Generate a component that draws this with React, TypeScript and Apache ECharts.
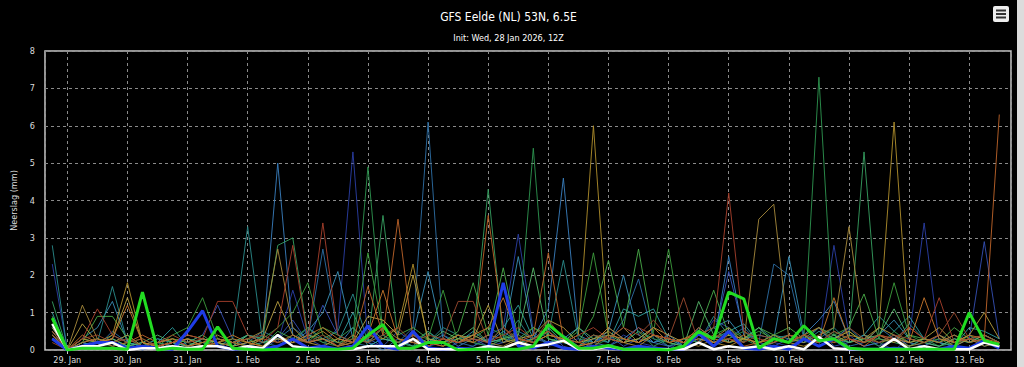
import React, { useEffect, useRef } from "react";
import * as echarts from "echarts";

// 6-hourly precipitation, first value valid 28 Jan 2026 18Z
const START = Date.UTC(2026, 0, 28, 18);
const STEP_H = 6;
const MONTHS = ["Jan", "Feb", "Mar"];
const Y_TICKS = [0, 1, 2, 3, 4, 5, 6, 7, 8];

const meanVals = [
  0.85, 0, 0.05, 0.05, 0.05, 0.02, 1.55, 0, 0.05, 0.02, 0.02, 0.62, 0.05, 0.02, 0, 0.02,
  0.02, 0.02, 0.02, 0.02, 0.05, 0.4, 0.68, 0.05, 0.05, 0.2, 0.2, 0, 0.02, 0.02, 0.02, 0.02,
  0.1, 0.68, 0.35, 0.05, 0.05, 0.12, 0.02, 0.02, 0.02, 0, 0.1, 0.5, 0.3, 1.55, 1.37, 0.05,
  0.3, 0.2, 0.65, 0.25, 0.3, 0.05, 0.02, 0.02, 0.02, 0.02, 0.02, 0.02, 0.02, 1.0, 0.25, 0.15,
];
const controlVals = [
  0.7, 0, 0.1, 0.1, 0.2, 0, 0.05, 0.05, 0.1, 0.05, 0.1, 0.1, 0.02, 0.1, 0.05, 0.4,
  0.1, 0.05, 0.02, 0.02, 0.02, 0.1, 0.1, 0.1, 0.3, 0.02, 0.02, 0.02, 0.02, 0.1, 0.05, 0.2,
  0.1, 0.15, 0.25, 0.02, 0.02, 0.1, 0.02, 0.02, 0.02, 0.02, 0.02, 0.2, 0.02, 0.1, 0.05, 0.1,
  0.02, 0.1, 0.02, 0.35, 0.05, 0.02, 0.02, 0.02, 0.3, 0.02, 0.1, 0.02, 0.02, 0.02, 0.2, 0.1,
];
const operVals = [
  0.3, 0, 0.1, 0.2, 0.2, 0.05, 0.1, 0.05, 0.02, 0.5, 1.05, 0.1, 0.02, 0.05, 0.02, 0.1,
  0.3, 0.05, 0.1, 0.02, 0.1, 0.65, 0.1, 0.02, 0.5, 0.05, 0.02, 0.05, 0.02, 0.05, 1.8, 0.1,
  0.05, 0.2, 0.05, 0.02, 0.1, 0.05, 0.02, 0.1, 0.05, 0.02, 0.02, 0.45, 0.1, 0.5, 0.05, 0.02,
  0.1, 0.02, 0.3, 0.1, 0.3, 0.02, 0.02, 0.02, 0.05, 0.02, 0.02, 0.02, 0.1, 0.05, 0.25, 0.05,
];

const m1 = [
  2.3, 0, 0.1, 0.3, 0.1, 0.2, 0, 0.1, 0.2, 0.1, 0.3, 0.2, 0, 0.1, 0.4, 0.2,
  1.6, 0.3, 0.1, 0.6, 5.3, 0.2, 0.1, 0, 0.3, 0.1, 0.2, 0, 0.1, 0.4, 0.6, 3.1,
  0.5, 0.1, 0.2, 0.3, 0, 0.1, 0.4, 0.2, 0.1, 0, 0.3, 0.2, 0.8, 0.6, 0.1, 0,
  0.2, 0.1, 0.3, 0.1, 2.8, 0.4, 0.1, 0.2, 0, 0.3, 3.4, 0.2, 0.1, 0.3, 0.2, 0.1,
];
const m2 = [
  0.4, 0, 0.2, 0.1, 0.3, 0.1, 0.2, 0, 0.1, 0.2, 0.4, 1.2, 0.3, 0.1, 0, 0.3,
  0.8, 0.2, 1.2, 0.4, 0.2, 0.3, 0.1, 0.5, 0.2, 0.1, 0, 0.2, 0.3, 0.1, 0.2, 0.4,
  0.2, 0.5, 0.1, 0, 0.2, 0.4, 0.1, 0.3, 0.2, 0.1, 0, 0.6, 0.3, 2.1, 0.5, 0.2,
  0.1, 0.3, 0.2, 0.6, 0.1, 0.2, 0.4, 0.1, 0.3, 0.2, 0.1, 0.4, 0.2, 0.3, 2.9, 0.3,
];
const m3 = [
  0.6, 0, 0.1, 0.2, 0.3, 0.1, 0, 0.2, 0.1, 0.3, 0.2, 0.1, 0.2, 0.4, 0.3, 5.0,
  0.4, 0.2, 0.3, 0.1, 0.6, 0.2, 0, 0.3, 0.1, 0.2, 0.4, 0.1, 0.3, 0.2, 0.5, 0.2,
  0.3, 1.1, 4.6, 0.4, 0.2, 0.1, 0.3, 0.6, 0.2, 0.4, 0.1, 0.3, 0.2, 2.5, 0.4, 0.1,
  0.3, 0.2, 0.4, 0.8, 1.3, 0.3, 0.1, 0.2, 0.4, 0.1, 0.3, 0.2, 0.1, 0.3, 0.2, 0.1,
];
const m4 = [
  0.3, 0, 0.2, 0.1, 0.5, 0.2, 0.1, 0, 0.2, 0.1, 0.3, 0.2, 0.1, 0.2, 0.5, 0.3,
  0.6, 0.3, 2.7, 0.4, 0.2, 0.1, 0.3, 0.2, 0.6, 6.1, 0.4, 0.2, 0.1, 0.3, 0.2, 0.5,
  0.3, 0.2, 0.4, 0.1, 0.3, 0.2, 0.8, 1.9, 0.3, 0.1, 0.2, 0.4, 0.1, 0.3, 0.6, 0.2,
  2.3, 2.0, 0.3, 0.2, 0.4, 0.1, 0.2, 0.6, 0.3, 0.2, 0.1, 0.3, 0.2, 0.4, 0.1, 0.2,
];
const m5 = [
  0.5, 0, 0.3, 0.6, 1.3, 0.2, 0.1, 0.3, 0.2, 0, 0.1, 0.3, 0.2, 0.1, 0.2, 0.4,
  0.2, 0.5, 1.0, 2.1, 0.3, 0.2, 0.6, 0.1, 0.4, 2.1, 0.3, 0.2, 0.5, 0.2, 0.3, 2.5,
  0.4, 0.2, 0.3, 0.6, 0.2, 0.5, 2.0, 0.4, 0.2, 0.3, 0.1, 0.2, 0.6, 0.8, 0.3, 0.4,
  0.3, 2.5, 0.4, 0.2, 0.3, 0.6, 0.2, 0.4, 0.8, 0.3, 0.2, 0.1, 0.3, 0.2, 0.4, 0.2,
];
const m6 = [
  2.8, 0, 0.3, 0.2, 1.7, 0.2, 0.1, 0.3, 0.2, 0.1, 0.2, 0.1, 0.3, 3.3, 0.2, 0.1,
  0.4, 0.2, 0.3, 0.5, 1.5, 0.2, 0.4, 0.1, 0.3, 0.2, 0.6, 0.4, 0.2, 0.1, 0.3, 0.8,
  0.2, 0.4, 2.4, 0.3, 0.2, 0.6, 0.3, 0.2, 0.4, 0.1, 0.3, 0.2, 0.9, 0.4, 0.2, 0.6,
  0.3, 0.4, 0.2, 0.3, 0.6, 0.2, 0.4, 0.3, 0.2, 0.7, 0.3, 0.2, 0.4, 0.2, 0.3, 0.1,
];
const m7 = [
  1.0, 0, 0.2, 0.1, 0.4, 0.2, 0.1, 0.2, 0.6, 0.1, 0.3, 0.2, 0.1, 0.4, 0.2, 0.3,
  0.2, 0.6, 0.3, 0.2, 1.0, 0.1, 0.3, 0.2, 0.1, 0.5, 0.2, 0.3, 0.4, 0.2, 0.6, 1.2,
  0.3, 0.6, 0.2, 0.1, 0.4, 0.2, 1.1, 0.9, 1.1, 0.3, 0.2, 0.4, 0.3, 0.5, 0.7, 0.2,
  0.4, 0.3, 0.2, 0.5, 0.3, 0.2, 0.4, 0.9, 0.5, 0.9, 0.3, 0.2, 0.1, 0.6, 0.5, 0.3,
];
const m8 = [
  0.4, 0, 0.1, 0.2, 0.3, 0.1, 0.2, 0, 0.3, 0.2, 0.1, 0.3, 0.2, 0.1, 0.4, 0.2,
  0.3, 0.6, 0.2, 0.1, 0.3, 4.9, 0.4, 0.2, 0.1, 0.3, 0.2, 0.4, 0.2, 0.1, 0.3, 0.5,
  5.4, 0.3, 0.2, 0.4, 0.1, 0.3, 0.2, 0.5, 0.3, 0.2, 0.1, 0.4, 0.2, 0.3, 0.5, 0.2,
  0.4, 0.2, 0.3, 7.3, 0.4, 0.2, 0.3, 0.1, 0.5, 0.2, 0.3, 0.1, 0.2, 0.3, 0.2, 0.1,
];
const m9 = [
  1.3, 0, 0.2, 0.3, 0.2, 0.4, 0.1, 0.2, 0.1, 0.3, 0.2, 0.1, 0.2, 0.4, 0.3, 2.8,
  3.0, 0.4, 0.2, 0.3, 0.6, 0.2, 3.6, 0.3, 0.2, 0.5, 0.1, 0.3, 0.4, 4.3, 0.3, 0.2,
  0.3, 0.6, 0.2, 0.1, 0.4, 0.3, 0.2, 0.5, 0.1, 0.3, 0.2, 0.4, 0.6, 0.2, 0.3, 0.1,
  0.2, 0.4, 0.3, 0.2, 0.5, 0.3, 5.3, 0.4, 0.2, 0.1, 0.3, 0.2, 0.4, 0.2, 0.3, 0.1,
];
const m10 = [
  0.8, 0, 0.3, 0.2, 0.1, 0.2, 0.3, 0.1, 0.4, 0.6, 1.4, 0.3, 0.2, 0.1, 0.3, 0.6,
  1.0, 1.8, 0.4, 0.2, 0.3, 2.6, 0.5, 0.2, 0.4, 0.3, 1.6, 0.2, 0.3, 0.6, 0.4, 0.2,
  0.6, 0.3, 0.2, 0.5, 2.6, 0.4, 0.3, 0.2, 0.5, 2.7, 0.3, 0.2, 0.4, 0.6, 0.3, 0.5,
  0.3, 0.2, 0.4, 0.6, 0.3, 0.5, 0.2, 0.3, 1.8, 0.4, 0.2, 0.3, 0.1, 0.4, 0.2, 0.1,
];
const m11 = [
  0.7, 0, 0.2, 0.9, 0.9, 0.3, 0.1, 0.2, 0.3, 0.2, 0.4, 0.1, 0.2, 0.3, 0.1, 0.5,
  0.3, 0.2, 0.6, 0.4, 0.2, 0.3, 0.8, 0.4, 0.6, 0.3, 0.2, 0.5, 1.8, 0.4, 2.2, 0.3,
  0.6, 0.4, 0.3, 0.2, 0.9, 2.4, 0.6, 2.7, 0.4, 0.3, 0.2, 0.5, 1.6, 0.4, 0.3, 0.6,
  0.4, 0.6, 0.3, 0.2, 0.4, 0.6, 1.5, 0.3, 0.2, 0.4, 0.3, 0.2, 0.6, 0.3, 0.4, 0.2,
];
const m12 = [
  0.9, 0, 0.1, 0.2, 0.3, 0.1, 0.2, 0.4, 0.2, 0.1, 0.3, 0.2, 0.1, 0.4, 0.2, 0.3,
  0.2, 0.4, 0.3, 0.1, 0.2, 0.6, 0.3, 0.2, 0.4, 0.2, 0.5, 0.3, 0.6, 0.2, 0.3, 0.4,
  2.2, 0.3, 0.2, 0.6, 0.3, 0.4, 0.2, 0.3, 0.6, 0.2, 0.1, 1.3, 0.4, 0.2, 0.3, 0.6,
  0.2, 0.4, 0.3, 0.6, 0.4, 0.2, 0.3, 0.4, 1.1, 0.3, 0.2, 0.1, 0.3, 0.2, 0.4, 0.2,
];
const m13 = [
  0.5, 0, 0.3, 0.2, 0.4, 1.8, 0.2, 0.1, 0.2, 0.3, 0.1, 0.2, 0.3, 0.2, 0.1, 0.4,
  0.2, 0.3, 0.5, 0.2, 0.1, 0.4, 0.3, 0.6, 2.3, 0.2, 0.1, 0.3, 0.2, 0.4, 0.3, 0.1,
  0.3, 0.5, 0.2, 0.4, 6.0, 0.3, 0.2, 0.1, 0.4, 0.2, 0.3, 0.5, 0.2, 0.1, 0.3, 0.2,
  0.4, 0.2, 0.1, 0.3, 0.2, 0.4, 0.3, 0.6, 6.1, 0.3, 0.2, 0.4, 0.1, 0.3, 0.2, 0.1,
];
const m14 = [
  0.4, 0, 1.2, 0.3, 0.2, 0.4, 0.1, 0.2, 0.3, 0.1, 0.2, 0.4, 0.2, 0.3, 0.5, 2.7,
  0.6, 0.2, 0.3, 0.1, 0.4, 0.2, 0.6, 0.3, 0.2, 0.1, 0.3, 0.2, 0.4, 0.2, 0.1, 0.3,
  0.2, 0.4, 0.3, 0.1, 0.2, 0.3, 0.6, 0.2, 0.4, 0.3, 0.2, 0.1, 0.3, 0.6, 0.2, 3.5,
  3.9, 0.3, 0.2, 0.4, 0.6, 3.3, 0.4, 0.2, 0.3, 0.1, 0.2, 0.4, 0.2, 0.3, 0.1, 0.2,
];
const m15 = [
  0.6, 0, 0.7, 0.2, 0.3, 1.4, 0.2, 0.1, 0.2, 0.4, 0.3, 0.2, 0.1, 0.2, 0.3, 1.3,
  0.4, 0.2, 0.1, 0.3, 0.2, 0.9, 0.8, 0.4, 2.0, 0.3, 0.2, 0.4, 0.3, 1.2, 0.2, 0.3,
  0.4, 0.8, 0.6, 0.2, 0.3, 0.5, 0.2, 0.3, 0.6, 0.4, 0.2, 0.3, 0.2, 0.4, 0.3, 0.2,
  0.3, 0.2, 0.4, 0.1, 0.3, 0.5, 0.2, 0.6, 0.4, 0.2, 0.3, 0.6, 0.2, 0.4, 1.0, 0.3,
];
const m16 = [
  0.4, 0, 0.2, 0.3, 0.1, 0.2, 0.4, 0.2, 0.3, 0.1, 0.2, 0.3, 0.2, 0.1, 0.3, 0.2,
  0.4, 0.2, 0.3, 0.1, 0.2, 1.7, 0.4, 3.5, 0.3, 0.2, 0.1, 0.4, 0.2, 3.6, 0.6, 0.2,
  0.4, 2.6, 0.3, 0.2, 0.1, 0.4, 0.3, 0.2, 0.6, 0.2, 0.3, 0.4, 0.2, 0.3, 0.1, 0.2,
  0.3, 0.2, 0.4, 0.6, 0.2, 0.3, 0.1, 0.4, 0.2, 0.6, 0.3, 0.2, 0.4, 0.2, 0.3, 6.3,
];
const m17 = [
  0.3, 0, 0.4, 0.2, 0.3, 1.2, 0.2, 0.1, 0.2, 0.3, 0.1, 0.2, 0.4, 0.2, 0.1, 0.3,
  0.2, 0.4, 0.6, 0.3, 0.2, 0.4, 1.6, 0.3, 0.2, 0.1, 0.3, 0.2, 0.4, 0.6, 1.4, 0.3,
  0.2, 0.4, 0.3, 0.1, 0.2, 0.6, 0.3, 0.2, 0.4, 0.3, 0.2, 0.6, 0.3, 0.2, 0.4, 0.1,
  0.2, 0.4, 0.3, 0.2, 1.4, 0.3, 0.2, 0.4, 0.3, 0.2, 1.4, 0.3, 0.2, 0.4, 0.3, 0.2,
];
const m18 = [
  0.5, 0, 0.3, 1.1, 0.4, 0.2, 0.3, 0.1, 0.2, 0.4, 0.3, 1.3, 1.3, 0.4, 0.2, 0.6,
  2.8, 0.3, 3.4, 0.4, 0.2, 0.3, 0.6, 0.2, 0.4, 0.1, 0.3, 0.2, 0.3, 0.2, 0.4, 0.6,
  0.3, 0.5, 0.2, 0.4, 0.6, 0.3, 0.2, 0.6, 0.4, 0.3, 0.2, 0.4, 0.6, 4.2, 0.5, 0.3,
  0.2, 0.4, 0.3, 0.2, 0.5, 0.3, 0.2, 0.4, 0.3, 0.6, 0.3, 1.4, 0.2, 0.3, 0.4, 0.2,
];
const m19 = [
  0.2, 0, 0.3, 0.4, 0.2, 0.3, 0.1, 0.2, 0.4, 0.2, 0.3, 0.1, 0.2, 0.3, 0.4, 0.2,
  0.3, 0.2, 0.4, 0.1, 0.3, 0.2, 0.4, 0.6, 0.2, 0.4, 0.3, 1.3, 1.3, 0.2, 0.6, 0.3,
  0.2, 0.8, 0.3, 0.2, 0.4, 0.3, 0.6, 0.4, 0.8, 0.3, 1.4, 0.2, 0.4, 0.3, 0.2, 0.4,
  0.3, 0.2, 0.4, 0.3, 0.2, 0.6, 0.3, 0.2, 0.4, 0.3, 0.2, 0.4, 1.0, 0.3, 0.2, 0.1,
];

const members = [m1, m2, m3, m4, m5, m6, m7, m8, m9, m10, m11, m12, m13, m14, m15, m16, m17, m18, m19];
const memberColors = [
  "#2b3fa6", "#3550b5", "#3a80c0", "#2e6fa5", "#3a90b8", "#2a8c8c", "#2fa0a0",
  "#2e9650", "#36a060", "#3d9d3d", "#4aad4a", "#56b86a", "#b08f2c", "#a68a3c",
  "#b9a040", "#c0652a", "#c8782e", "#a8402c", "#9c4a30",
];

const FONT = "'Liberation Sans Narrow', 'DejaVu Sans Condensed', 'Liberation Sans', sans-serif";
const DAY = 24 * 3600 * 1000;

function toPairs(vals: number[]) {
  return vals.map((v, i) => [START + i * STEP_H * 3600 * 1000, v]);
}

export default function App() {
  const ref = useRef<HTMLDivElement>(null);
  useEffect(() => {
    document.body.style.margin = "0";
    document.body.style.background = "#dcdcdc";
    if (!ref.current) return;
    const chart = echarts.init(ref.current, undefined, { renderer: "svg" });
    const series: any[] = members.map((vals, k) => ({
      type: "line",
      name: "member " + (k + 1),
      data: toPairs(vals),
      showSymbol: false,
      symbol: "none",
      lineStyle: { width: 1, color: memberColors[k], opacity: 0.9 },
      z: 2,
    }));
    series.push({
      type: "line", name: "oper", data: toPairs(operVals), symbol: "none", showSymbol: false,
      lineStyle: { width: 3, color: "#1f3de6" }, z: 3,
    });
    series.push({
      type: "line", name: "control", data: toPairs(controlVals), symbol: "none", showSymbol: false,
      lineStyle: { width: 2.5, color: "#ffffff" }, z: 4,
    });
    series.push({
      type: "line", name: "mean", data: toPairs(meanVals), symbol: "none", showSymbol: false,
      lineStyle: { width: 3, color: "#22dd22" }, z: 5,
    });

    chart.setOption({
      animation: false,
      useUTC: true,
      backgroundColor: "#000000",
      title: [
        { text: "GFS Eelde (NL) 53N, 6.5E", left: "center", top: 6,
          textStyle: { color: "#ffffff", fontSize: 12, fontWeight: "normal", fontFamily: FONT } },
        { text: "Init: Wed, 28 Jan 2026, 12Z", left: "center", top: 28,
          textStyle: { color: "#ffffff", fontSize: 9, fontWeight: "normal", fontFamily: FONT } },
      ],
      grid: { left: 45, right: 6, top: 51, bottom: 17, show: true, borderColor: "#c8c8c8", borderWidth: 1.5 },
      xAxis: {
        type: "time",
        min: Date.UTC(2026, 0, 28, 15, 6),
        max: Date.UTC(2026, 1, 13, 16, 40),
        minInterval: DAY,
        maxInterval: DAY,
        axisLine: { show: false },
        axisTick: { show: true, length: 4, lineStyle: { color: "#cccccc" } },
        axisLabel: {
          color: "#dddddd", fontSize: 9, fontFamily: FONT, margin: 5,
          showMinLabel: false, showMaxLabel: false,
          formatter: (v: number) => {
            const d = new Date(v);
            return d.getUTCDate() + ". " + MONTHS[d.getUTCMonth()];
          },
        },
        splitLine: { show: true, lineStyle: { color: "#8a8a8a", type: [3, 3], width: 1 } },
      },
      yAxis: {
        type: "value",
        min: Y_TICKS[0],
        max: Y_TICKS[Y_TICKS.length - 1],
        interval: 1,
        name: "Neerslag (mm)",
        nameLocation: "middle",
        nameGap: 24,
        nameTextStyle: { color: "#dddddd", fontSize: 9, fontFamily: FONT },
        axisLine: { show: false },
        axisTick: { show: false },
        axisLabel: { color: "#dddddd", fontSize: 9, fontFamily: FONT, margin: 10 },
        splitLine: { lineStyle: { color: "#8a8a8a", type: [3, 3], width: 1 } },
      },
      graphic: [
        {
          type: "group", right: 8, top: 6,
          children: [
            { type: "rect", shape: { x: 0, y: 0, width: 16, height: 16, r: 2 }, style: { fill: "#eeeeee" } },
            { type: "rect", shape: { x: 3, y: 3.5, width: 10, height: 2 }, style: { fill: "#333333" } },
            { type: "rect", shape: { x: 3, y: 7, width: 10, height: 2 }, style: { fill: "#333333" } },
            { type: "rect", shape: { x: 3, y: 10.5, width: 10, height: 2 }, style: { fill: "#333333" } },
          ],
        },
      ],
      series,
    });
    return () => chart.dispose();
  }, []);
  return (
    <div
      ref={ref}
      style={{ position: "fixed", left: 0, top: 0, width: 1017, height: 367, background: "#000" }}
    />
  );
}
